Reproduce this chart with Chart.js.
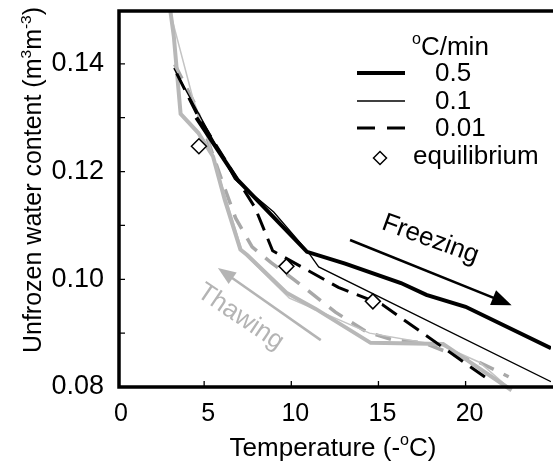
<!DOCTYPE html>
<html>
<head>
<meta charset="utf-8">
<script src="https://cdn.jsdelivr.net/npm/chart.js@4.4.1/dist/chart.umd.min.js"></script>
<style>
  html, body { margin: 0; padding: 0; background: #fff; }
  #wrap { width: 560px; height: 462px; }
</style>
</head>
<body>
<div id="wrap"><canvas id="chart" width="560" height="462"></canvas></div>
<script>
// x = temperature (-oC), y = unfrozen water content (m3/m3)
// freezing runs (black)
const freeze05X = [4.55, 6.91, 10.90, 13.09, 16.29, 17.75, 20.0, 24.9];
const freeze05Y = [0.1300, 0.1185, 0.1051, 0.1029, 0.0993, 0.0971, 0.0949, 0.0872];
const freeze01X = [3.26, 6.74, 8.99, 10.96, 11.57, 24.9];
const freeze01Y = [0.1392, 0.1186, 0.1125, 0.1051, 0.1023, 0.0810];
const freeze001X = [3.43, 4.66, 7.92, 8.93, 12.70, 15.22, 21.35];
const freeze001Y = [0.1382, 0.1302, 0.1133, 0.1053, 0.0985, 0.0953, 0.0813];
// thawing runs (grey)
const thaw05X = [2.95, 3.26, 3.65, 4.66, 5.51, 6.18, 7.08, 7.47, 9.72, 11.40, 14.55, 18.71, 22.64];
const thaw05Y = [0.1525, 0.1451, 0.1307, 0.1272, 0.1228, 0.1148, 0.1055, 0.1045, 0.0975, 0.0945, 0.0882, 0.0880, 0.0794];
const thaw01X = [2.90, 4.38, 5.22, 6.18, 7.19, 9.89, 14.49, 18.71, 20.79, 22.64];
const thaw01Y = [0.1515, 0.1333, 0.1259, 0.1157, 0.1051, 0.0965, 0.0900, 0.0876, 0.0846, 0.0794];
const thaw001X = [3.31, 4.49, 6.07, 6.80, 7.75, 8.88, 10.17, 12.53, 14.33, 15.90, 17.58, 19.10, 20.84, 22.47];
const thaw001Y = [0.1399, 0.1324, 0.1179, 0.1114, 0.1060, 0.1030, 0.0999, 0.0939, 0.0902, 0.0887, 0.0882, 0.0863, 0.0845, 0.0819];
// equilibrium points
const eqX = [4.70, 9.72, 14.68];
const eqY = [0.1247, 0.1024, 0.0959];

const xTicks = [0, 5, 10, 15, 20];
const yTicks = [0.08, 0.10, 0.12, 0.14];
const yMinorTicks = [0.09, 0.10, 0.11, 0.12, 0.13, 0.14];
const legendRates = ['0.5', '0.1', '0.01'];

// arrows + labels, in data units
const freezeArrow = [[13.37, 0.1073], [22.64, 0.0952]];
const thawArrow = [[11.69, 0.0887], [5.79, 0.1021]];
const freezeLabel = { text: 'Freezing', x: 17.98, y: 0.1074 };
const thawLabel = { text: 'Thawing', x: 7.08, y: 0.0930 };

const FAMILY = '"Liberation Sans", Arial, Helvetica, sans-serif';
const GREY = '#b4b4b4';

function pts(xs, ys) {
    return xs.map((x, i) => ({ x: x, y: ys[i] }));
}

function font(size) {
    return size + 'px ' + FAMILY;
}

// text with superscript parts: [[text, isSup], ...]
function richWidth(ctx, parts, size) {
    let w = 0;
    parts.forEach(p => {
        ctx.font = font(p[1] ? size * 0.62 : size);
        w += ctx.measureText(p[0]).width;
    });
    return w;
}

function drawRich(ctx, parts, x, y, size) {
    let cx = x;
    ctx.textAlign = 'left';
    ctx.textBaseline = 'alphabetic';
    parts.forEach(p => {
        ctx.font = font(p[1] ? size * 0.62 : size);
        ctx.fillText(p[0], cx, p[1] ? y - size * 0.42 : y);
        cx += ctx.measureText(p[0]).width;
    });
}

function drawArrow(ctx, x1, y1, x2, y2, color, width, head, headW) {
    const ang = Math.atan2(y2 - y1, x2 - x1);
    const c = Math.cos(ang), s = Math.sin(ang);
    ctx.strokeStyle = color;
    ctx.fillStyle = color;
    ctx.lineWidth = width;
    ctx.beginPath();
    ctx.moveTo(x1, y1);
    ctx.lineTo(x2 - c * head * 0.8, y2 - s * head * 0.8);
    ctx.stroke();
    ctx.beginPath();
    ctx.moveTo(x2, y2);
    ctx.lineTo(x2 - head * c + headW / 2 * s, y2 - head * s - headW / 2 * c);
    ctx.lineTo(x2 - head * c - headW / 2 * s, y2 - head * s + headW / 2 * c);
    ctx.closePath();
    ctx.fill();
}

function drawDiamond(ctx, x, y, r) {
    ctx.beginPath();
    ctx.moveTo(x - r, y);
    ctx.lineTo(x, y - r);
    ctx.lineTo(x + r, y);
    ctx.lineTo(x, y + r);
    ctx.closePath();
    ctx.fillStyle = '#fff';
    ctx.fill();
    ctx.strokeStyle = '#000';
    ctx.lineWidth = 1.5;
    ctx.stroke();
}

const decorations = {
    id: 'decorations',
    afterDraw(chart) {
        const ctx = chart.ctx;
        const a = chart.chartArea;
        const xs = chart.scales.x, ys = chart.scales.y;
        ctx.save();

        // frame (left, top, bottom)
        ctx.strokeStyle = '#000';
        ctx.lineWidth = 3.5;
        ctx.beginPath();
        ctx.moveTo(a.right + 2, a.top + 1);
        ctx.lineTo(a.left + 2, a.top + 1);
        ctx.lineTo(a.left + 2, a.bottom);
        ctx.lineTo(a.right + 2, a.bottom);
        ctx.stroke();

        // inward ticks
        ctx.lineWidth = 1.3;
        ctx.beginPath();
        xTicks.forEach(v => {
            if (v === 0) return;
            const px = xs.getPixelForValue(v);
            ctx.moveTo(px, a.bottom);
            ctx.lineTo(px, a.bottom - 6);
        });
        yMinorTicks.forEach(v => {
            const py = ys.getPixelForValue(v);
            ctx.moveTo(a.left + 2, py);
            ctx.lineTo(a.left + 8, py);
        });
        ctx.stroke();

        // freezing arrow + label
        const f0x = xs.getPixelForValue(freezeArrow[0][0]), f0y = ys.getPixelForValue(freezeArrow[0][1]);
        const f1x = xs.getPixelForValue(freezeArrow[1][0]), f1y = ys.getPixelForValue(freezeArrow[1][1]);
        drawArrow(ctx, f0x, f0y, f1x, f1y, '#000', 2.5, 20, 16);
        ctx.save();
        ctx.translate(xs.getPixelForValue(freezeLabel.x), ys.getPixelForValue(freezeLabel.y));
        ctx.rotate(20 * Math.PI / 180);
        ctx.font = font(26);
        ctx.fillStyle = '#000';
        ctx.textAlign = 'center';
        ctx.textBaseline = 'middle';
        ctx.fillText(freezeLabel.text, 0, 0);
        ctx.restore();

        // thawing arrow + label
        const t0x = xs.getPixelForValue(thawArrow[0][0]), t0y = ys.getPixelForValue(thawArrow[0][1]);
        const t1x = xs.getPixelForValue(thawArrow[1][0]), t1y = ys.getPixelForValue(thawArrow[1][1]);
        drawArrow(ctx, t0x, t0y, t1x, t1y, GREY, 2.5, 18, 14);
        ctx.save();
        ctx.translate(xs.getPixelForValue(thawLabel.x), ys.getPixelForValue(thawLabel.y));
        ctx.rotate(34 * Math.PI / 180);
        ctx.font = font(26);
        ctx.fillStyle = GREY;
        ctx.textAlign = 'center';
        ctx.textBaseline = 'middle';
        ctx.fillText(thawLabel.text, 0, 0);
        ctx.restore();

        // legend
        ctx.fillStyle = '#000';
        drawRich(ctx, [['o', true], ['C/min', false]], 412, 55, 26);
        const rowY = [73, 101, 128];
        const widths = [4, 1.3, 3];
        rowY.forEach((y, i) => {
            ctx.strokeStyle = '#000';
            ctx.lineWidth = widths[i];
            ctx.setLineDash(i === 2 ? [18, 12] : []);
            ctx.beginPath();
            ctx.moveTo(357, y);
            ctx.lineTo(405, y);
            ctx.stroke();
            ctx.setLineDash([]);
            ctx.fillStyle = '#000';
            ctx.font = font(26);
            ctx.textAlign = 'left';
            ctx.textBaseline = 'middle';
            ctx.fillText(legendRates[i], 435, y + 1);
        });
        drawDiamond(ctx, 380, 158, 6.5);
        ctx.fillStyle = '#000';
        ctx.font = font(26);
        ctx.textAlign = 'left';
        ctx.textBaseline = 'middle';
        ctx.fillText('equilibrium', 413, 157);

        // axis titles
        const xParts = [['Temperature (-', false], ['o', true], ['C)', false]];
        const xw = richWidth(ctx, xParts, 26);
        ctx.fillStyle = '#000';
        drawRich(ctx, xParts, 333 - xw / 2, 456, 26);

        const yParts = [['Unfrozen water content (m', false], ['3', true], ['m', false], ['-3', true], [')', false]];
        const yw = richWidth(ctx, yParts, 25);
        ctx.save();
        ctx.translate(41, 180);
        ctx.rotate(-Math.PI / 2);
        drawRich(ctx, yParts, -yw / 2, 0, 25);
        ctx.restore();

        ctx.restore();
    }
};

new Chart(document.getElementById('chart'), {
    type: 'scatter',
    data: {
        datasets: [
            {
                label: 'equilibrium', data: pts(eqX, eqY), showLine: false,
                pointStyle: 'rectRot', pointRadius: 7.5, pointHoverRadius: 7.5,
                backgroundColor: '#fff', borderColor: '#000', borderWidth: 1.5
            },
            { label: 'freeze 0.5', data: pts(freeze05X, freeze05Y), showLine: true, borderColor: '#000', borderWidth: 4, pointRadius: 0 },
            { label: 'freeze 0.1', data: pts(freeze01X, freeze01Y), showLine: true, borderColor: '#000', borderWidth: 1.3, pointRadius: 0 },
            { label: 'freeze 0.01', data: pts(freeze001X, freeze001Y), showLine: true, borderColor: '#000', borderWidth: 3, borderDash: [18, 9], pointRadius: 0 },
            { label: 'thaw 0.5', data: pts(thaw05X, thaw05Y), showLine: true, borderColor: '#b8b8b8', borderWidth: 4, pointRadius: 0, clip: { left: 0, top: 0, right: 0, bottom: 5 } },
            { label: 'thaw 0.1', data: pts(thaw01X, thaw01Y), showLine: true, borderColor: '#c4c4c4', borderWidth: 1.5, pointRadius: 0 },
            { label: 'thaw 0.01', data: pts(thaw001X, thaw001Y), showLine: true, borderColor: '#a8a8a8', borderWidth: 3.5, borderDash: [16, 11], pointRadius: 0 }
        ]
    },
    options: {
        responsive: false,
        animation: false,
        devicePixelRatio: 1,
        layout: { padding: { top: 10, left: 0, right: 0, bottom: 0 } },
        plugins: { legend: { display: false }, tooltip: { enabled: false } },
        scales: {
            x: {
                type: 'linear', min: 0, max: 24.9,
                afterBuildTicks: s => { s.ticks = xTicks.map(v => ({ value: v })); },
                afterFit: s => { s.height = 75; s.paddingLeft = 0; s.paddingRight = 0; },
                grid: { display: false, drawTicks: false },
                border: { display: false },
                ticks: { color: '#000', font: { size: 25, family: FAMILY }, padding: 12, labelOffset: 4, maxRotation: 0, autoSkip: false }
            },
            y: {
                type: 'linear', min: 0.08, max: 0.15,
                afterBuildTicks: s => { s.ticks = yTicks.map(v => ({ value: v })); },
                afterFit: s => { s.width = 117; s.paddingTop = 0; s.paddingBottom = 0; },
                grid: { display: false, drawTicks: false },
                border: { display: false },
                ticks: { color: '#000', font: { size: 27, family: FAMILY }, padding: 13, autoSkip: false, callback: v => v.toFixed(2) }
            }
        }
    },
    plugins: [decorations]
});
</script>
</body>
</html>
